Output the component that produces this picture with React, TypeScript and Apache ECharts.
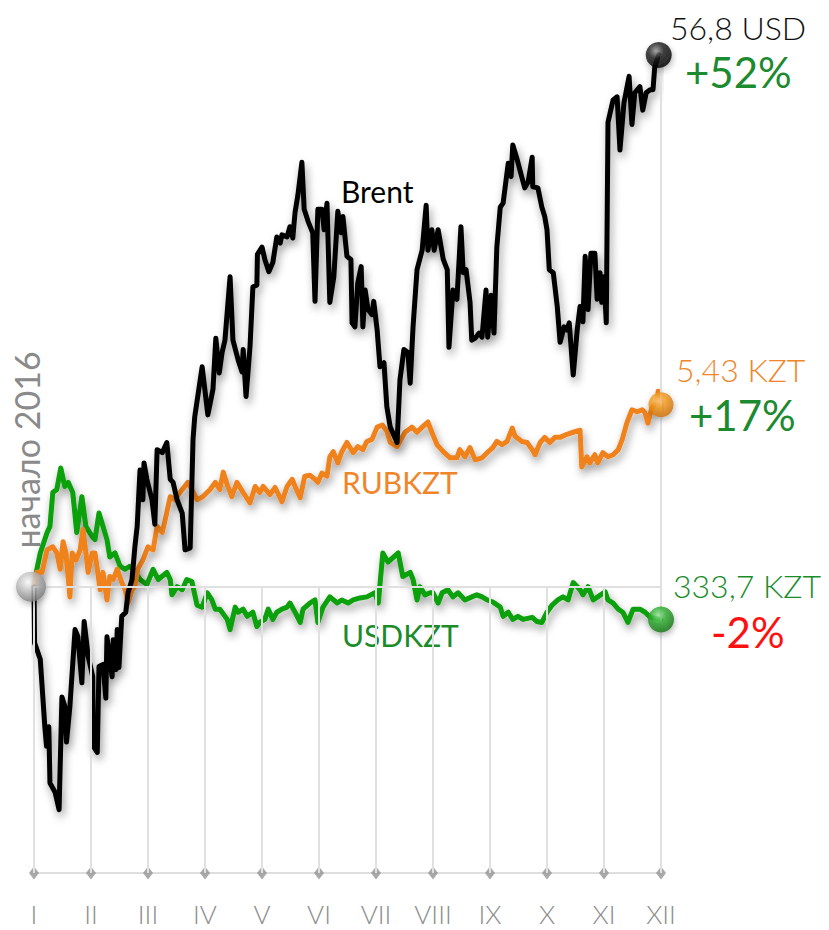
import React, { useEffect, useRef } from "react";
import * as echarts from "echarts";

// x = month index (0 = I ... 11 = XII), y = % change since start of 2016
const MONTHS = ["I", "II", "III", "IV", "V", "VI", "VII", "VIII", "IX", "X", "XI", "XII"];

const brent: [number, number][] = [
  [0, 0], [0.01, -5.5], [0.11, -7.1], [0.19, -13.7], [0.22, -15.6], [0.26, -13.7], [0.28, -19.2],
  [0.37, -20.1], [0.44, -21.8], [0.49, -10.8], [0.54, -11.7], [0.57, -15.2], [0.63, -11.7],
  [0.72, -4.2], [0.77, -4.9], [0.84, -9.4], [0.88, -3.4], [0.95, -6.8], [1.03, -8.8], [1.04, -15.6],
  [1.11, -16.2], [1.14, -7.8], [1.21, -7.6], [1.26, -10.9], [1.28, -4.9], [1.37, -8.8], [1.39, -5.2],
  [1.44, -8.1], [1.46, -4.2], [1.49, -7.9], [1.54, -2.9], [1.61, -2.5], [1.65, -0.6], [1.72, 0.7],
  [1.77, 3.9], [1.81, 5.9], [1.86, 11.4], [1.91, 8.5], [1.93, 12.1], [1.98, 10.5], [2.07, 8.5],
  [2.12, 6.1], [2.16, 13.4], [2.25, 13.1], [2.33, 14.1], [2.39, 10.5], [2.44, 10.2], [2.51, 8.5],
  [2.6, 7.2], [2.65, 3.6], [2.74, 3.8], [2.79, 14.4], [2.82, 16.6], [2.95, 21.5], [3.05, 16.8],
  [3.14, 19.3], [3.19, 24.3], [3.25, 20.9], [3.3, 22.9], [3.35, 24.1], [3.44, 30.3], [3.49, 24.1],
  [3.58, 22.2], [3.65, 21.0], [3.67, 23.2], [3.72, 18.6], [3.79, 23.5], [3.84, 29.3], [3.91, 29.5],
  [3.92, 32.5], [4.0, 33.2], [4.05, 32.0], [4.12, 30.8], [4.19, 31.7], [4.26, 34.2], [4.32, 33.6],
  [4.35, 34.4], [4.44, 34.2], [4.49, 35.2], [4.54, 34.1], [4.58, 36.6], [4.63, 38.3], [4.7, 41.5],
  [4.74, 36.9], [4.81, 35.7], [4.89, 34.6], [4.93, 27.9], [4.98, 36.9], [5.05, 36.9], [5.09, 34.9],
  [5.14, 37.5], [5.19, 27.8], [5.26, 30.3], [5.33, 36.7], [5.39, 34.6], [5.42, 36.2], [5.49, 32.3],
  [5.56, 32.0], [5.58, 25.8], [5.63, 25.4], [5.68, 29.7], [5.74, 31.3], [5.77, 25.4], [5.81, 29.0],
  [5.86, 27.1], [5.93, 26.6], [5.96, 27.9], [6.02, 25.1], [6.07, 21.5], [6.14, 21.9], [6.19, 17.6],
  [6.25, 15.6], [6.37, 14.1], [6.42, 20.2], [6.49, 23.2], [6.56, 22.9], [6.6, 19.9], [6.65, 25.4],
  [6.72, 31.0], [6.81, 32.9], [6.88, 37.3], [6.91, 32.9], [6.98, 34.9], [7.02, 32.9], [7.09, 34.9],
  [7.18, 32.0], [7.25, 31.0], [7.28, 23.4], [7.35, 29.0], [7.42, 28.1], [7.49, 35.2], [7.53, 30.7],
  [7.58, 31.0], [7.65, 27.8], [7.68, 24.1], [7.74, 24.3], [7.81, 24.8], [7.86, 24.4], [7.93, 29.0],
  [7.96, 24.4], [8.02, 28.5], [8.07, 24.8], [8.12, 33.2], [8.18, 37.1], [8.23, 37.5], [8.32, 41.4],
  [8.37, 40.1], [8.4, 43.2], [8.47, 41.9], [8.56, 40.0], [8.61, 39.0], [8.67, 39.6], [8.74, 42.0],
  [8.75, 39.1], [8.84, 39.0], [8.91, 37.1], [8.96, 36.2], [9.0, 34.9], [9.04, 31.0], [9.11, 30.7],
  [9.18, 27.4], [9.23, 23.9], [9.3, 25.4], [9.35, 25.1], [9.39, 25.8], [9.46, 20.7], [9.53, 25.1],
  [9.58, 27.4], [9.63, 25.9], [9.67, 32.3], [9.72, 27.1], [9.77, 32.6], [9.84, 32.6], [9.88, 28.1],
  [9.93, 30.7], [9.96, 27.8], [10.0, 30.3], [10.04, 25.8], [10.07, 45.4], [10.16, 47.6], [10.23, 47.9],
  [10.28, 42.7], [10.35, 47.3], [10.44, 49.9], [10.49, 45.2], [10.54, 48.3], [10.63, 48.9], [10.68, 46.6],
  [10.74, 48.3], [10.81, 48.6], [10.86, 48.6], [10.89, 50.8], [10.96, 52.0]
];

const rubkzt: [number, number][] = [
  [0, 0], [0.05, 1.4], [0.14, 1.4], [0.23, 3.6], [0.33, 3.9], [0.4, 3.3], [0.46, 1.7], [0.51, 4.4],
  [0.56, 3.3], [0.63, -1.0], [0.67, 3.3], [0.74, 2.6], [0.81, 3.6], [0.86, 5.6], [0.91, 3.3], [0.95, 1.4],
  [1.02, 3.3], [1.07, 3.3], [1.16, -0.3], [1.21, 1.4], [1.28, -1.3], [1.33, 1.0], [1.39, 0.7], [1.46, 1.7],
  [1.54, 0.4], [1.6, -0.3], [1.65, -1.6], [1.72, -0.3], [1.77, 0.0], [1.82, 1.7], [1.91, 2.6], [2.0, 3.9],
  [2.09, 3.6], [2.16, 5.9], [2.25, 5.3], [2.3, 6.5], [2.39, 8.8], [2.47, 8.5], [2.56, 9.2], [2.7, 10.2],
  [2.77, 9.5], [2.86, 8.5], [2.96, 8.8], [3.09, 9.5], [3.18, 10.2], [3.26, 9.5], [3.32, 11.2], [3.4, 9.8],
  [3.47, 8.8], [3.56, 10.2], [3.67, 9.2], [3.79, 8.2], [3.88, 9.8], [3.96, 9.2], [4.02, 9.8], [4.14, 9.0],
  [4.23, 9.7], [4.35, 8.3], [4.44, 9.8], [4.53, 10.5], [4.58, 9.8], [4.67, 8.7], [4.75, 10.8], [4.84, 10.9],
  [4.93, 10.5], [4.98, 10.2], [5.05, 11.1], [5.14, 10.8], [5.19, 12.7], [5.25, 13.2], [5.33, 12.1],
  [5.4, 13.2], [5.49, 14.1], [5.6, 13.1], [5.68, 13.7], [5.77, 13.4], [5.84, 14.2], [5.93, 14.4],
  [6.02, 15.6], [6.11, 15.8], [6.19, 15.2], [6.25, 14.1], [6.37, 13.7], [6.51, 15.1], [6.63, 15.6],
  [6.72, 15.1], [6.81, 15.6], [6.91, 16.1], [6.98, 15.1], [7.07, 13.9], [7.18, 13.2], [7.3, 12.6],
  [7.42, 12.6], [7.47, 13.4], [7.56, 12.7], [7.65, 13.6], [7.74, 12.4], [7.86, 12.6], [7.95, 13.1],
  [8.05, 13.6], [8.12, 14.2], [8.21, 13.9], [8.3, 14.2], [8.39, 15.5], [8.44, 14.7], [8.56, 14.2],
  [8.65, 14.1], [8.74, 13.4], [8.79, 12.9], [8.88, 14.1], [8.96, 14.6], [9.05, 14.1], [9.14, 14.6],
  [9.23, 14.6], [9.35, 14.9], [9.46, 15.1], [9.58, 15.3], [9.61, 11.7], [9.7, 12.7], [9.75, 12.1],
  [9.84, 12.9], [9.89, 12.1], [9.98, 13.1], [10.07, 12.7], [10.16, 12.9], [10.25, 13.4], [10.32, 14.4],
  [10.4, 16.0], [10.49, 17.3], [10.58, 17.1], [10.67, 17.3], [10.72, 17.0], [10.77, 16.0], [10.84, 17.5],
  [10.93, 18.0], [10.95, 19.1], [11, 17.8]
];

const usdkzt: [number, number][] = [
  [0, 0], [0.05, 1.7], [0.11, 3.3], [0.23, 5.3], [0.28, 5.9], [0.33, 9.2], [0.4, 9.5], [0.47, 11.6],
  [0.54, 9.8], [0.6, 10.2], [0.68, 9.2], [0.75, 5.3], [0.84, 8.8], [0.91, 5.9], [1.02, 4.9], [1.07, 4.6],
  [1.14, 7.2], [1.21, 5.9], [1.28, 4.6], [1.33, 2.9], [1.42, 3.3], [1.51, 2.0], [1.6, 1.7], [1.68, 2.0],
  [1.74, 1.7], [1.86, 0.7], [1.98, 0.2], [2.09, 1.7], [2.18, 0.7], [2.33, 1.4], [2.39, 0.7], [2.42, -0.8],
  [2.51, 0.0], [2.6, -0.3], [2.68, 0.7], [2.77, 0.5], [2.86, -1.8], [2.95, -2.0], [3.04, -0.6],
  [3.12, -1.3], [3.18, -2.2], [3.26, -2.2], [3.39, -3.2], [3.44, -4.2], [3.53, -2.0], [3.58, -2.5],
  [3.67, -2.2], [3.74, -2.9], [3.84, -2.5], [3.91, -3.9], [3.96, -3.5], [4.05, -3.2], [4.11, -2.2],
  [4.19, -3.2], [4.26, -2.5], [4.35, -2.2], [4.44, -2.0], [4.49, -1.6], [4.58, -2.5], [4.67, -3.5],
  [4.72, -2.2], [4.84, -1.6], [4.93, -1.3], [4.98, -3.5], [5.07, -2.0], [5.19, -1.0], [5.32, -1.6],
  [5.4, -1.3], [5.51, -1.6], [5.6, -1.3], [5.72, -1.1], [5.84, -1.0], [5.98, -0.6], [6.04, -1.6],
  [6.12, 3.3], [6.21, 2.4], [6.39, 3.3], [6.47, 1.0], [6.6, 1.4], [6.65, 0.7], [6.72, -1.3], [6.77, 0.0],
  [6.86, -0.8], [6.95, -0.6], [7.0, -0.6], [7.09, -1.6], [7.16, -0.6], [7.26, -0.3], [7.35, -1.0],
  [7.44, -0.6], [7.56, -1.3], [7.68, -1.0], [7.77, -0.8], [7.86, -1.0], [7.95, -1.3], [8.05, -1.5],
  [8.18, -2.0], [8.23, -2.9], [8.32, -2.5], [8.4, -3.2], [8.49, -2.9], [8.58, -3.2], [8.74, -3.0],
  [8.82, -3.4], [8.91, -3.5], [9.0, -2.5], [9.09, -1.8], [9.19, -1.3], [9.28, -1.0], [9.37, -1.3],
  [9.46, 0.4], [9.58, -0.3], [9.63, -0.8], [9.72, 0.0], [9.81, -1.3], [9.89, -1.0], [10.02, -0.5],
  [10.07, -1.3], [10.16, -1.6], [10.25, -2.2], [10.33, -2.5], [10.42, -3.5], [10.51, -2.2], [10.63, -2.2],
  [10.72, -2.5], [10.81, -3.0], [11, -3.2]
];

const seriesNames = ["Brent", "RUBKZT", "USDKZT"];
const endValues = ["56,8 USD", "5,43 KZT", "333,7 KZT"];
const endChanges = ["+52%", "+17%", "-2%"];
const startLabel = "начало 2016";

const Y_MIN = -28;
const Y_MAX = 56;

const ball = (c0: string, c1: string, c2: string) => ({
  type: "radial",
  x: 0.4,
  y: 0.35,
  r: 0.65,
  colorStops: [
    { offset: 0, color: c0 },
    { offset: 0.45, color: c1 },
    { offset: 1, color: c2 },
  ],
});

const FONT = "Lato, 'Open Sans', sans-serif";

export default function App() {
  const ref = useRef<HTMLDivElement>(null);
  useEffect(() => {
    if (!ref.current) return;
    const chart = echarts.init(ref.current, null, { renderer: "svg" });
    const last = (a: [number, number][]) => a[a.length - 1];
    const brentEnd = last(brent);
    const lineShadow = {
      shadowColor: "rgba(0,0,0,0.4)",
      shadowBlur: 9,
      shadowOffsetX: 2,
      shadowOffsetY: 5,
    };
    const gridLines: any[] = MONTHS.slice(0, 11).map((_, i) => [
      { coord: [i, 0] },
      { coord: [i, Y_MIN] },
    ]);
    gridLines.push([{ coord: [11, brentEnd[1]] }, { coord: [11, Y_MIN] }]);
    gridLines.push([{ coord: [0, 0] }, { coord: [11, 0] }]);

    const textStyle = (text: string, size: number, color: string, weight: any = 300) => ({
      text,
      fill: color,
      font: `${weight} ${size}px ${FONT}`,
      textVerticalAlign: "middle",
    });

    chart.setOption({
      animation: false,
      grid: { left: 34, right: 168, top: 14, bottom: 57 },
      xAxis: {
        type: "value",
        min: 0,
        max: 11,
        interval: 1,
        axisLine: { onZero: false, lineStyle: { color: "#dedede", width: 2 } },
        axisTick: { show: false },
        splitLine: { show: false },
        axisLabel: {
          formatter: (v: number) => MONTHS[v] ?? "",
          color: "#8c8c8c",
          fontSize: 26,
          fontWeight: 300,
          fontFamily: FONT,
          margin: 28,
        },
      },
      yAxis: { type: "value", min: Y_MIN, max: Y_MAX, show: false },
      series: [
        {
          type: "scatter",
          silent: true,
          symbol: "diamond",
          symbolSize: [10, 13],
          itemStyle: { color: "#939393" },
          data: MONTHS.map((_, i) => [i, Y_MIN]),
          markLine: {
            silent: true,
            symbol: ["none", "none"],
            label: { show: false },
            lineStyle: { color: "#e0e0e0", width: 2, type: "solid" },
            data: gridLines,
          },
          z: 1,
        },
        {
          name: seriesNames[2],
          type: "line",
          data: usdkzt,
          showSymbol: false,
          symbol: "none",
          lineStyle: { color: "#08a008", width: 5, join: "round", cap: "round", ...lineShadow },
          z: 2,
        },
        {
          name: seriesNames[1],
          type: "line",
          data: rubkzt,
          showSymbol: false,
          symbol: "none",
          lineStyle: { color: "#f0821e", width: 5, join: "round", cap: "round", ...lineShadow },
          z: 3,
        },
        {
          name: seriesNames[0],
          type: "line",
          data: brent,
          showSymbol: false,
          symbol: "none",
          lineStyle: { color: "#050505", width: 5, join: "round", cap: "round", ...lineShadow },
          z: 4,
        },
        {
          type: "scatter",
          silent: true,
          z: 5,
          itemStyle: {
            shadowColor: "rgba(0,0,0,0.35)",
            shadowBlur: 6,
            shadowOffsetX: 1,
            shadowOffsetY: 3,
          },
          data: [
            { value: [0, 0], symbolSize: 30, symbolOffset: [-3, 0], itemStyle: { color: ball("#ffffff", "#c4c4c4", "#7e7e7e") } },
            { value: last(usdkzt), symbolSize: 26, itemStyle: { color: ball("#9be89b", "#2fae2f", "#157515") } },
            { value: last(rubkzt), symbolSize: 25, itemStyle: { color: ball("#ffd48a", "#f39a1e", "#d07008") } },
            { value: brentEnd, symbolSize: 26, itemStyle: { color: ball("#9a9a9a", "#1e1e1e", "#000000") } },
          ],
        },
      ],
      graphic: [
        { type: "text", x: 341, y: 191, style: textStyle(seriesNames[0], 30, "#000000", 400) },
        { type: "text", x: 342, y: 482, style: textStyle(seriesNames[1], 30, "#f0862a", 400) },
        { type: "text", x: 342, y: 635, style: textStyle(seriesNames[2], 30, "#1a8c2a", 400) },
        { type: "text", x: 670, y: 27, style: textStyle(endValues[0], 32, "#111111") },
        { type: "text", x: 685, y: 72, style: textStyle(endChanges[0], 42, "#1c8a2e", 400) },
        { type: "text", x: 676, y: 369, style: textStyle(endValues[1], 32, "#f0862a") },
        { type: "text", x: 689, y: 415, style: textStyle(endChanges[1], 42, "#1c8a2e", 400) },
        { type: "text", x: 673, y: 585, style: textStyle(endValues[2], 32, "#1a8c2a") },
        { type: "text", x: 711, y: 632, style: textStyle(endChanges[2], 42, "#ff1010", 400) },
        {
          type: "text",
          x: 26,
          y: 450,
          rotation: Math.PI / 2,
          style: { ...textStyle(startLabel, 34, "#8a8a8a", 400), textAlign: "center" },
        },
      ],
    });
    return () => chart.dispose();
  }, []);
  return (
    <div
      ref={ref}
      style={{ position: "fixed", left: 0, top: 0, width: 829, height: 930, background: "#fff" }}
    />
  );
}
